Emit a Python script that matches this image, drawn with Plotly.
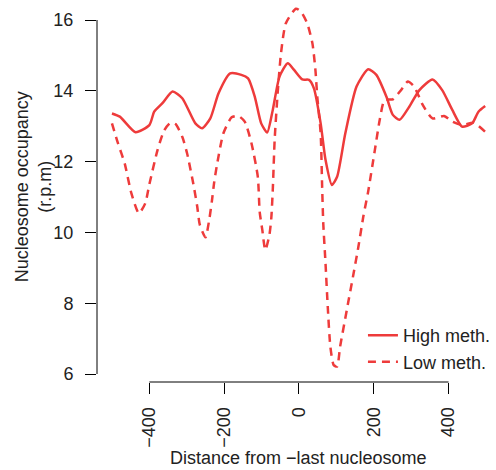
import plotly.graph_objects as go

# High methylation (solid)
high_x = [-500, -479, -437, -400, -387, -365, -338, -312, -277, -259, -237, -215, -184, -154, -136,
          -118, -101, -85, -70, -52, -30, -13, 9, 27, 40, 58, 71, 88, 102, 124, 154, 185, 207, 234,
          251, 269, 295, 322, 357, 383, 410, 436, 463, 480, 498]
high_y = [13.36, 13.27, 12.83, 13.03, 13.41, 13.65, 13.98, 13.79, 13.08, 12.94, 13.22, 13.93, 14.49,
          14.45, 14.35, 13.83, 13.08, 12.82, 13.46, 14.40, 14.78, 14.59, 14.32, 14.31, 14.07, 13.08,
          12.05, 11.34, 11.57, 12.80, 14.12, 14.61, 14.45, 13.83, 13.32, 13.18, 13.55, 14.02, 14.32,
          14.02, 13.46, 12.99, 13.08, 13.41, 13.57]

# Low methylation (dashed)
low_x = [-500, -484, -466, -448, -428, -411, -400, -378, -360, -343, -330, -312, -299, -281, -272,
         -265, -250, -240, -233, -227, -220, -202, -180, -162, -145, -127, -110, -105, -98, -90,
         -79, -74, -70, -65, -57, -48, -35, -8, 5, 22, 36, 44, 49, 58, 62, 65, 71, 77, 84, 93, 102,
         110, 128, 146, 159, 172, 185, 203, 216, 229, 251, 273, 291, 308, 331, 357, 388, 410, 436,
         467, 498]
low_y = [13.08, 12.52, 11.95, 11.10, 10.54, 10.82, 11.36, 12.33, 12.89, 13.10, 13.06, 12.70, 12.23,
         11.29, 10.73, 10.21, 9.86, 10.35, 10.87, 11.39, 11.86, 12.80, 13.25, 13.29, 13.13, 12.52,
         11.57, 10.58, 10.07, 9.50, 9.93, 10.40, 11.20, 12.61, 13.93, 15.06, 15.91, 16.32, 16.24,
         15.91, 15.34, 14.59, 13.83, 12.80, 11.29, 10.26, 9.13, 7.90, 6.77, 6.25, 6.21, 6.77, 7.81,
         8.84, 9.60, 10.44, 11.15, 12.33, 13.18, 13.74, 13.76, 14.02, 14.26, 14.12, 13.60, 13.22,
         13.29, 13.13, 13.03, 13.10, 12.84]

x_ticks = [-400, -200, 0, 200, 400]
x_tick_text = ["\u2212400", "\u2212200", "0", "200", "400"]
y_ticks = [6, 8, 10, 12, 14, 16]

RED = "#EE3B3B"
FONT = "Liberation Sans, Arial, sans-serif"

fig = go.Figure()
fig.add_trace(go.Scatter(x=high_x, y=high_y, mode="lines", name="High meth.",
                         line=dict(color=RED, width=2.5, shape="spline", smoothing=0.6)))
fig.add_trace(go.Scatter(x=low_x, y=low_y, mode="lines", name="Low meth.",
                         line=dict(color=RED, width=2.5, dash="8px,6px", shape="spline", smoothing=0.6)))

# R-style axis lines spanning only the tick range
fig.add_shape(type="line", xref="x", yref="paper", x0=min(x_ticks), x1=max(x_ticks), y0=0, y1=0,
              line=dict(color="black", width=1))
fig.add_shape(type="line", xref="paper", yref="y", x0=0, x1=0, y0=min(y_ticks), y1=max(y_ticks),
              line=dict(color="black", width=1))

fig.add_annotation(text="Distance from \u2212last nucleosome", xref="x", yref="paper",
                   x=0, y=-0.2016, showarrow=False, xanchor="center", yanchor="middle",
                   font=dict(family=FONT, size=18, color="#222222"))
fig.add_annotation(text="Nucleosome occupancy<br>(r.p.m)", xref="paper", yref="paper",
                   x=-0.162, y=0.517, showarrow=False, xanchor="center", yanchor="middle",
                   textangle=-90, font=dict(family=FONT, size=18, color="#222222"))

fig.update_layout(
    width=496, height=470,
    margin=dict(l=97, r=0, t=5, b=88),
    paper_bgcolor="white", plot_bgcolor="white",
    font=dict(family=FONT, size=18, color="#222222"),
    showlegend=True,
    legend=dict(x=0.675, y=0.172, xanchor="left", yanchor="top",
                bgcolor="rgba(0,0,0,0)", borderwidth=0,
                font=dict(family=FONT, size=18, color="#222222"),
                itemwidth=30, tracegroupgap=0),
    xaxis=dict(range=[-540, 513.5], showgrid=False, zeroline=False, showline=False,
               tickmode="array", tickvals=x_ticks, ticktext=x_tick_text,
               ticks="outside", ticklen=11, tickwidth=1, tickcolor="black",
               tickangle=-90, ticklabelstandoff=6,
               tickfont=dict(family=FONT, size=18, color="#222222")),
    yaxis=dict(range=[5.774, 16.424], showgrid=False, zeroline=False, showline=False,
               tickmode="array", tickvals=y_ticks,
               ticks="outside", ticklen=11, tickwidth=1, tickcolor="black",
               ticklabelstandoff=8,
               tickfont=dict(family=FONT, size=18, color="#222222")),
)

fig.write_html("out.html")
